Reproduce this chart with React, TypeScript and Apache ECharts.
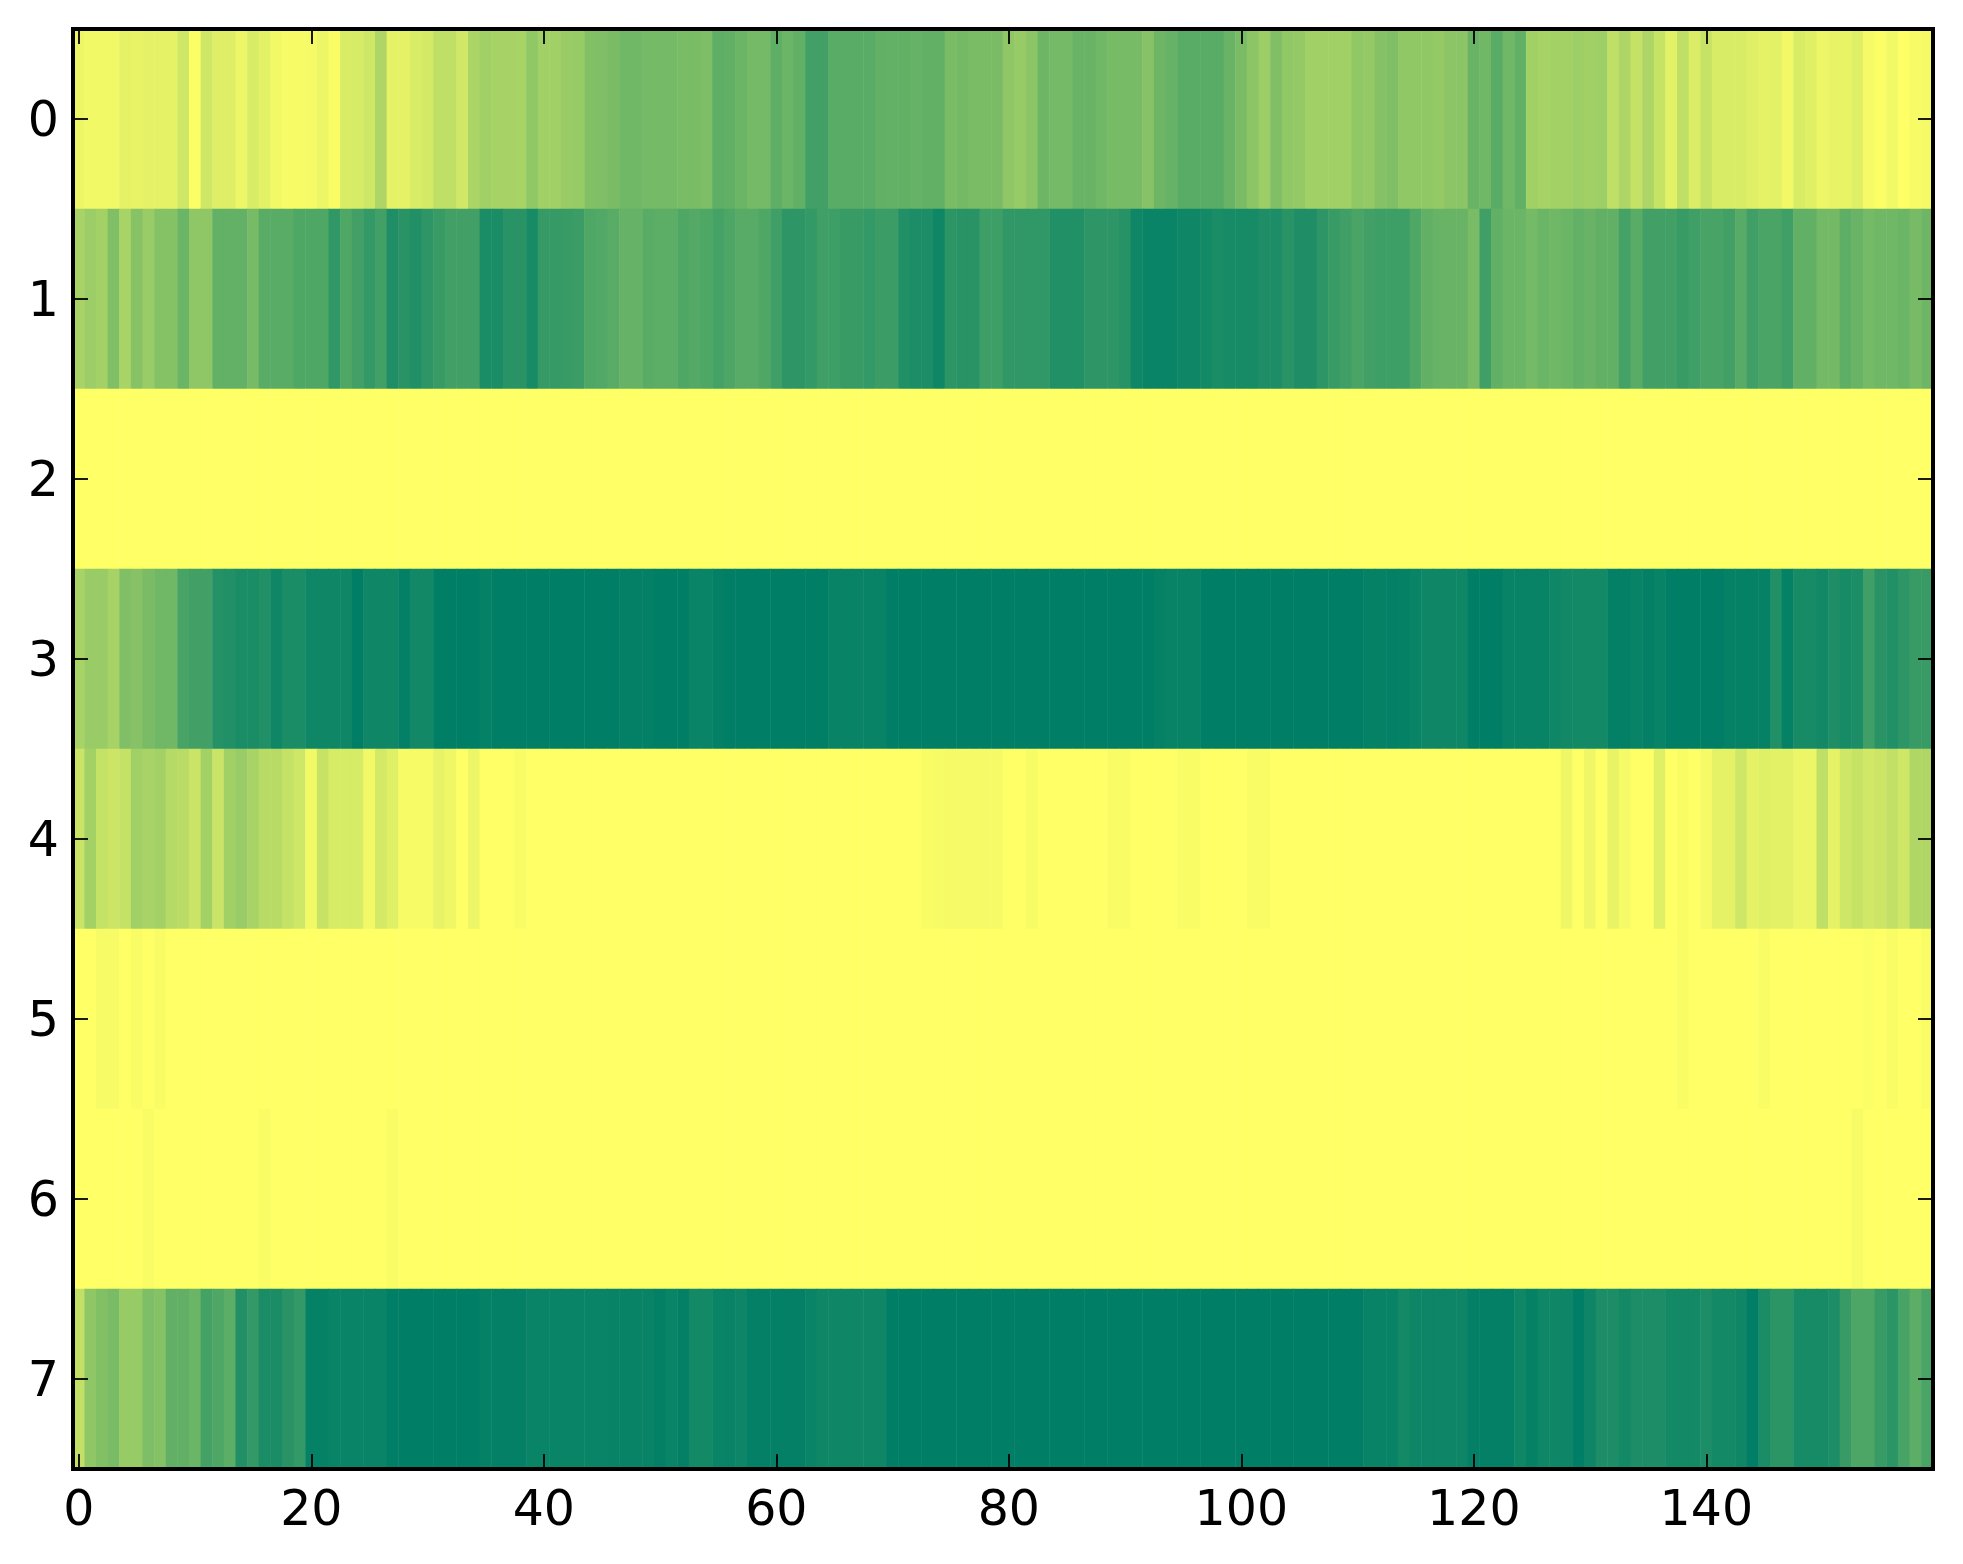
import React, { useEffect, useRef } from "react";
import * as echarts from "echarts";

const columnLabels: string[] = Array.from({ length: 160 }, (_, i) => String(i));
const rowLabels = ["0", "1", "2", "3", "4", "5", "6", "7"];

const row0 = [
  7,5,5,5,10,9,10,10,10,19,
  1,19,13,13,7,15,11,5,3,3,
  4,7,2,15,16,19,32,10,10,15,
  17,25,25,18,33,37,35,35,34,43,
  37,37,40,41,49,50,52,56,56,54,
  54,54,52,52,51,63,62,58,54,54,
  63,58,62,74,74,65,65,65,65,62,
  61,62,60,62,62,52,55,52,52,52,
  44,41,45,57,54,54,59,59,56,53,
  53,53,47,57,60,65,65,65,65,59,
  52,45,39,50,43,42,37,37,37,37,
  43,42,48,50,43,43,43,42,45,45,
  59,56,65,56,62,37,35,36,36,38,
  37,38,25,32,23,32,22,11,25,14,
  22,15,15,15,12,10,11,5,15,12,
  7,9,9,12,4,1,5,0,3,4,
];
const row1 = [
  34,39,36,50,34,47,40,48,48,58,
  44,44,61,61,61,53,65,65,65,69,
  69,69,81,69,74,80,74,88,84,87,
  82,78,74,74,74,90,90,84,84,91,
  79,79,78,77,69,68,65,60,60,65,
  64,64,69,67,69,73,70,66,66,69,
  75,82,82,80,75,76,78,78,80,77,
  77,87,89,89,94,83,84,84,76,76,
  81,81,81,81,87,87,87,82,82,82,
  85,94,96,96,96,94,94,92,90,91,
  91,91,88,89,84,88,88,82,78,75,
  71,74,76,76,76,69,62,59,59,59,
  52,75,62,58,58,54,58,56,58,61,
  59,62,62,73,65,74,74,74,78,75,
  72,72,74,66,75,71,71,75,62,62,
  55,55,63,59,54,56,56,58,53,57,
];
const row2 = [
  0,0,0,0,0,0,0,0,0,0, 0,0,0,0,0,0,0,0,0,0,
  0,0,0,0,0,0,0,0,0,0, 0,0,0,0,0,0,0,0,0,0,
  0,0,0,0,0,0,0,0,0,0, 0,0,0,0,0,0,0,0,0,0,
  0,0,0,0,0,0,0,0,0,0, 0,0,0,0,0,0,0,0,0,0,
  0,0,0,0,0,0,0,0,0,0, 0,0,0,0,0,0,0,0,0,0,
  0,0,0,0,0,0,0,0,0,0, 0,0,0,0,0,0,0,0,0,0,
  0,0,0,0,0,0,0,0,0,0, 0,0,0,0,0,0,0,0,0,0,
  0,0,0,0,0,0,0,0,0,0, 0,0,0,0,0,0,0,0,0,0,
];
const row3 = [
  34,40,40,35,50,47,52,56,56,72,
  74,74,86,87,90,90,87,94,90,90,
  94,94,94,94,100,94,94,94,99,93,
  93,100,100,100,100,98,100,100,100,100,
  100,100,100,100,100,100,100,99,99,99,
  100,100,100,96,96,99,100,100,100,100,
  100,100,100,100,100,97,97,97,97,97,
  100,100,100,100,100,100,100,100,100,100,
  100,100,100,100,100,100,100,100,100,100,
  100,100,100,98,97,97,97,100,100,100,
  100,100,100,100,100,100,100,100,100,100,
  100,98,98,99,98,96,94,94,94,94,
  100,100,100,97,97,97,97,94,93,92,
  92,92,99,99,97,99,97,100,100,100,
  100,100,98,98,98,98,87,98,91,91,
  93,88,91,89,75,84,87,82,78,78,
];
const row4 = [
  21,36,23,20,23,37,34,36,29,27,
  21,36,21,37,40,34,28,28,23,19,
  5,22,16,16,16,5,17,12,3,3,
  3,9,6,0,7,0,0,0,2,0,
  0,0,0,0,0,0,0,0,0,0,
  0,0,0,0,0,0,0,0,0,0,
  0,0,0,0,0,0,0,0,0,0,
  0,0,0,2,3,4,4,4,4,4,
  0,0,3,0,0,0,0,0,0,2,
  2,0,0,0,0,2,2,0,0,0,
  0,2,2,0,0,0,0,0,0,0,
  0,0,0,0,0,0,0,0,0,0,
  0,0,0,0,0,0,0,0,6,0,
  6,0,9,4,0,0,12,0,2,0,
  4,10,10,19,10,12,11,11,7,7,
  25,10,19,22,18,20,24,19,31,31,
];
const row5 = [
  0,0,3,3,0,2,0,2,0,0, 0,0,0,0,0,0,0,0,0,0,
  0,0,0,0,0,0,0,0,0,0, 0,0,0,0,0,0,0,0,0,0,
  0,0,0,0,0,0,0,0,0,0, 0,0,0,0,0,0,0,0,0,0,
  0,0,0,0,0,0,0,0,0,0, 0,0,0,0,0,0,0,0,0,0,
  0,0,0,0,0,0,0,0,0,0, 0,0,0,0,0,0,0,0,0,0,
  0,0,0,0,0,0,0,0,0,0, 0,0,0,0,0,0,0,0,0,0,
  0,0,0,0,0,0,0,0,0,0, 0,0,0,0,0,0,0,0,2,0,
  0,0,0,0,0,2,0,0,0,0, 0,0,0,0,1,0,2,0,0,2,
];
const row6 = [
  0,0,0,0,0,0,2,0,0,0, 0,0,0,0,0,0,2,0,0,0,
  0,0,0,0,0,0,0,2,0,0, 0,0,0,0,0,0,0,0,0,0,
  0,0,0,0,0,0,0,0,0,0, 0,0,0,0,0,0,0,0,0,0,
  0,0,0,0,0,0,0,0,0,0, 0,0,0,0,0,0,0,0,0,0,
  0,0,0,0,0,0,0,0,0,0, 0,0,0,0,0,0,0,0,0,0,
  0,0,0,0,0,0,0,0,0,0, 0,0,0,0,0,0,0,0,0,0,
  0,0,0,0,0,0,0,0,0,0, 0,0,0,0,0,0,0,0,0,0,
  0,0,0,0,0,0,0,0,0,0, 0,0,0,3,0,0,0,0,0,0,
];
const row7 = [
  24,44,49,52,41,41,51,48,62,62,
  58,73,69,64,87,80,90,90,84,80,
  98,98,96,96,96,96,96,100,100,100,
  100,100,100,100,100,98,99,99,99,96,
  96,96,96,96,96,96,97,97,97,97,
  99,96,99,92,92,96,97,95,99,99,
  99,99,99,96,94,94,94,94,94,94,
  100,100,100,100,100,100,100,100,100,100,
  100,100,100,100,100,100,100,100,100,100,
  100,100,100,100,100,100,100,100,100,100,
  100,100,100,100,100,100,100,100,100,100,
  100,97,97,97,92,95,95,95,95,95,
  99,99,99,99,94,98,94,94,95,100,
  95,89,89,92,89,89,89,92,92,92,
  89,92,92,94,100,90,83,83,91,91,
  91,89,78,70,70,78,83,72,64,71,
];

const rows = [row0, row1, row2, row3, row4, row5, row6, row7];

const FONT = "DejaVu Sans";
const everyTwenty = (i: number) => i % 20 === 0;

export default function App() {
  const ref = useRef<HTMLDivElement>(null);

  useEffect(() => {
    document.body.style.margin = "0";
    document.body.style.background = "#ffffff";
    const chart = echarts.init(ref.current!, undefined, { renderer: "svg" });

    const cells: [number, number, number][] = [];
    rows.forEach((row, y) => row.forEach((v, x) => cells.push([x, y, v])));

    const line = { show: true, onZero: false, lineStyle: { color: "#000", width: 4, cap: "square" } };
    const tick = { show: true, inside: true, length: 15, alignWithLabel: true, lineStyle: { color: "#000", width: 1.8 } };

    chart.setOption({
      animation: false,
      backgroundColor: "#ffffff",
      tooltip: { show: false },
      grid: { left: 73, top: 29, width: 1860, height: 1440, containLabel: false },
      xAxis: [
        {
          type: "category",
          position: "bottom",
          data: columnLabels,
          z: 5,
          axisLine: line,
          axisTick: { ...tick, interval: everyTwenty },
          axisLabel: { interval: everyTwenty, hideOverlap: false, fontFamily: FONT, fontSize: 49, color: "#000", margin: 15 },
          splitLine: { show: false },
        },
        {
          type: "category",
          position: "top",
          data: columnLabels,
          z: 5,
          axisLine: line,
          axisTick: { ...tick, interval: everyTwenty },
          axisLabel: { show: false },
          splitLine: { show: false },
        },
      ],
      yAxis: [
        {
          type: "category",
          position: "left",
          inverse: true,
          data: rowLabels,
          z: 5,
          axisLine: line,
          axisTick: tick,
          axisLabel: { fontFamily: FONT, fontSize: 49, color: "#000", margin: 14, padding: [0, 0, 2, 0] },
          splitLine: { show: false },
        },
        {
          type: "category",
          position: "right",
          inverse: true,
          data: rowLabels,
          z: 5,
          axisLine: line,
          axisTick: tick,
          axisLabel: { show: false },
          splitLine: { show: false },
        },
      ],
      visualMap: {
        show: false,
        type: "continuous",
        min: 0,
        max: 100,
        seriesIndex: 0,
        inRange: { color: ["#ffff66", "#007f66"] },
      },
      series: [
        {
          type: "heatmap",
          xAxisIndex: 0,
          yAxisIndex: 0,
          data: cells,
          z: 2,
          progressive: 0,
          itemStyle: { borderWidth: 0 },
          emphasis: { disabled: true },
        },
      ],
    });

    return () => chart.dispose();
  }, []);

  return <div ref={ref} style={{ width: 1963, height: 1564 }} />;
}
